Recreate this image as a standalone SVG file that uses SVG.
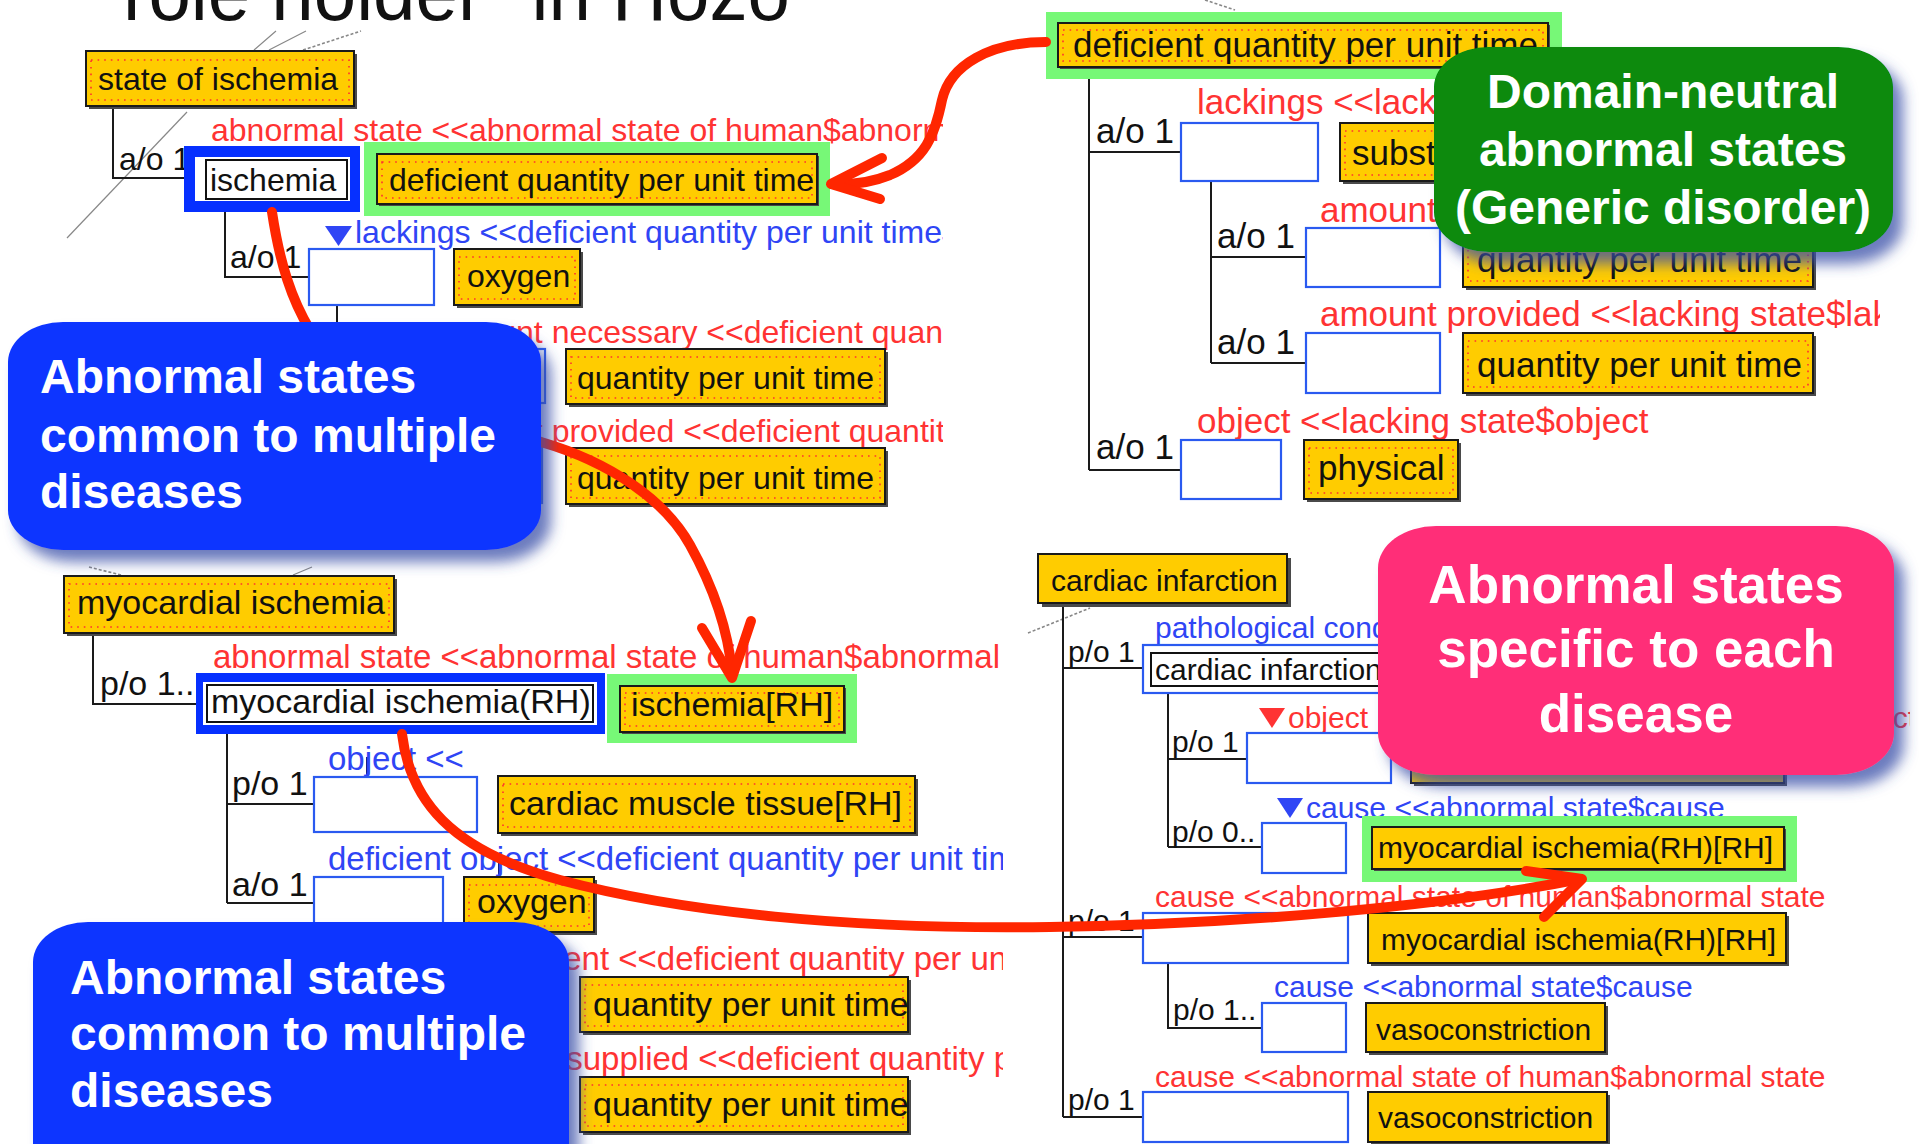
<svg xmlns="http://www.w3.org/2000/svg" width="1919" height="1144" viewBox="0 0 1919 1144">
  <defs>
    <style>
      text{font-family:"Liberation Sans",Arial,sans-serif}
      .f30{font-size:30px}.f32{font-size:32px}.f33{font-size:33px}.f34{font-size:34px}.f35{font-size:35px}
      .k{fill:#111}
      .rt{fill:#FF3333}
      .bt{fill:#2F45F5}
      .yb{fill:#FFCC00;stroke:#1a1a1a;stroke-width:2}
      .sh{fill:#4a4a4a}
      .dot{fill:none;stroke:#FF3030;stroke-width:1.6;stroke-dasharray:1.6 5}
      .bl{fill:#fff;stroke:#2A5AF0;stroke-width:2.2}
      .wb{fill:#fff;stroke:#111;stroke-width:2}
      .tl{fill:none;stroke:#1a1a1a;stroke-width:2}
      .gl{fill:none;stroke:#888;stroke-width:1.2}
      .gd{fill:none;stroke:#888;stroke-width:1.6;stroke-dasharray:3 2}
      .gh{fill:#77F877}
      .bh{fill:#0630FF}
      .arr{fill:none;stroke:#FF2600;stroke-width:10;stroke-linecap:round;stroke-linejoin:round}
      .co{font-weight:bold;fill:#fff}
    </style>
    <filter id="ds" x="-10%" y="-10%" width="130%" height="140%">
      <feDropShadow dx="10" dy="12" stdDeviation="7" flood-color="#3A4FA8" flood-opacity="0.75"/>
    </filter>
    <clipPath id="cpUL"><rect x="0" y="0" width="943" height="560"/></clipPath>
    <clipPath id="cpLL"><rect x="0" y="560" width="1003" height="584"/></clipPath>
    <clipPath id="cpUR"><rect x="1040" y="0" width="840" height="520"/></clipPath>
    <clipPath id="cpLR"><rect x="1010" y="520" width="900" height="624"/></clipPath>
  </defs>

  <rect width="1919" height="1144" fill="#fff"/>

  <!-- slide title, cut by the top edge -->
  <text id="title" x="96" y="20" font-size="80" textLength="694" lengthAdjust="spacingAndGlyphs" class="k">"role holder" in Hozo</text>

  <!-- ===== upper-left tree: ischemia ===== -->
  <g id="panel-ul" clip-path="url(#cpUL)">
    <g id="ul-deco">
      <path class="gl" d="M67,238 L187,112"/>
      <path class="gl" d="M254,50 L276,31 M269,50 L306,31"/>
      <path class="gd" d="M303,50 L361,31"/>
    </g>
    <g id="ul-lines">
      <path class="tl" d="M113,106 V178 H184"/>
      <path class="tl" d="M225,212 V277 H309"/>
      <path class="tl" d="M337,305 V475 M337,376 H423 M337,475 H423"/>
    </g>
    <g id="n-state-of-ischemia">
      <rect class="sh" x="89" y="54" width="268" height="55"/>
      <rect class="yb" x="86" y="51" width="268" height="55"/>
      <rect class="dot" x="91" y="60" width="258" height="40"/>
      <text class="k f32" x="98" y="90">state of ischemia</text>
    </g>
    <text class="k f32" x="119" y="170">a/o 1</text>
    <text class="rt f32" x="211" y="141">abnormal state &lt;&lt;abnormal state of human$abnormal</text>
    <g id="n-ischemia">
      <rect class="bh" x="184" y="146" width="176" height="66"/>
      <rect fill="#fff" x="195" y="157" width="155" height="44"/>
      <rect class="wb" x="206" y="160" width="141" height="39"/>
      <text class="k f32" x="210" y="191">ischemia</text>
    </g>
    <g id="n-dqput-ul">
      <rect class="gh" x="364" y="142" width="466" height="74"/>
      <rect class="sh" x="379" y="156" width="440" height="50"/>
      <rect class="yb" x="377" y="154" width="440" height="50"/>
      <rect class="dot" x="382" y="162" width="430" height="36"/>
      <text class="k f32" x="389" y="191">deficient quantity per unit time</text>
    </g>
    <text class="k f32" x="230" y="268">a/o 1</text>
    <g id="lbl-lackings">
      <polygon class="bt" points="325,226 352,226 338.5,246"/>
      <text class="bt f32" x="355" y="243">lackings &lt;&lt;deficient quantity per unit time$</text>
    </g>
    <g id="n-lackings">
      <rect class="bl" x="309" y="249" width="125" height="56"/>
    </g>
    <g id="n-oxygen-ul">
      <rect class="sh" x="457" y="252" width="126" height="56"/>
      <rect class="yb" x="454" y="249" width="126" height="56"/>
      <rect class="dot" x="459" y="257" width="116" height="42"/>
      <text class="k f32" x="467" y="287">oxygen</text>
    </g>
    <text class="rt f32" x="436" y="343">amount necessary &lt;&lt;deficient quantity</text>
    <g id="n-necessary-ul">
      <rect class="bl" x="423" y="349" width="122" height="54"/>
    </g>
    <g id="n-qput-ul1">
      <rect class="sh" x="569" y="352" width="319" height="55"/>
      <rect class="yb" x="566" y="349" width="319" height="55"/>
      <rect class="dot" x="571" y="357" width="309" height="41"/>
      <text class="k f32" x="577" y="389">quantity per unit time</text>
    </g>
    <text class="rt f32" x="436" y="442">amount provided &lt;&lt;deficient quantity</text>
    <g id="n-provided-ul">
      <rect class="bl" x="423" y="448" width="119" height="55"/>
    </g>
    <g id="n-qput-ul2">
      <rect class="sh" x="569" y="451" width="319" height="56"/>
      <rect class="yb" x="566" y="448" width="319" height="56"/>
      <rect class="dot" x="571" y="456" width="309" height="42"/>
      <text class="k f32" x="577" y="489">quantity per unit time</text>
    </g>
  </g>

  <!-- ===== lower-left tree: myocardial ischemia ===== -->
  <g id="panel-ll" clip-path="url(#cpLL)">
    <g id="ll-deco">
      <path class="gd" d="M89,567 L121,575"/>
      <path class="gl" d="M293,575 L312,567"/>
    </g>
    <g id="ll-lines">
      <path class="tl" d="M93,633 V704 H196"/>
      <path class="tl" d="M227,734 V903 M227,804 H314 M227,903 H314"/>
      <path class="tl" d="M345,935 V1104 M345,1005 H430 M345,1104 H430"/>
      <path class="tl" d="M367,757 V777 M499,853 V877" stroke-width="1.5"/>
    </g>
    <g id="n-myocardial-ischemia">
      <rect class="sh" x="67" y="579" width="330" height="57"/>
      <rect class="yb" x="64" y="576" width="330" height="57"/>
      <rect class="dot" x="69" y="584" width="320" height="43"/>
      <text class="k f34" x="77" y="614">myocardial ischemia</text>
    </g>
    <text class="k f34" x="100" y="695">p/o 1..</text>
    <text class="rt f33" x="213" y="668">abnormal state &lt;&lt;abnormal state of human$abnormal state</text>
    <g id="n-mi-rh">
      <rect class="bh" x="196" y="673" width="409" height="61"/>
      <rect fill="#fff" x="203" y="682" width="394" height="43"/>
      <rect class="wb" x="207" y="685" width="386" height="37"/>
      <text class="k f34" x="211" y="713">myocardial ischemia(RH)</text>
    </g>
    <g id="n-ischemia-rh">
      <rect class="gh" x="607" y="674" width="250" height="69"/>
      <rect class="sh" x="622" y="688" width="224" height="46"/>
      <rect class="yb" x="620" y="686" width="224" height="46"/>
      <rect class="dot" x="625" y="693" width="214" height="33"/>
      <text class="k f34" x="631" y="716">ischemia[RH]</text>
    </g>
    <text class="k f34" x="232" y="795">p/o 1</text>
    <text class="bt f33" x="328" y="770">object &lt;&lt;</text>
    <g id="n-object-ll">
      <rect class="bl" x="314" y="777" width="163" height="55"/>
    </g>
    <g id="n-cardiac-muscle">
      <rect class="sh" x="501" y="779" width="417" height="57"/>
      <rect class="yb" x="498" y="776" width="417" height="57"/>
      <rect class="dot" x="503" y="784" width="407" height="43"/>
      <text class="k f34" x="509" y="815">cardiac muscle tissue[RH]</text>
    </g>
    <text class="k f34" x="232" y="896">a/o 1</text>
    <text class="bt f33" x="328" y="870">deficient object &lt;&lt;deficient quantity per unit time</text>
    <g id="n-deficient-object">
      <rect class="bl" x="314" y="877" width="129" height="58"/>
    </g>
    <g id="n-oxygen-ll">
      <rect class="sh" x="467" y="880" width="130" height="55"/>
      <rect class="yb" x="464" y="877" width="130" height="55"/>
      <rect class="dot" x="469" y="885" width="120" height="41"/>
      <text class="k f34" x="477" y="913">oxygen</text>
    </g>
    <text class="rt f33" x="433" y="970">requirement &lt;&lt;deficient quantity per unit time</text>
    <g id="n-requirement">
      <rect class="bl" x="430" y="977" width="127" height="55"/>
    </g>
    <g id="n-qput-ll1">
      <rect class="sh" x="583" y="980" width="328" height="55"/>
      <rect class="yb" x="580" y="977" width="328" height="55"/>
      <rect class="dot" x="585" y="985" width="318" height="41"/>
      <text class="k f34" x="593" y="1016">quantity per unit time</text>
    </g>
    <text class="rt f33" x="447" y="1070">amount supplied &lt;&lt;deficient quantity per unit time</text>
    <g id="n-supplied">
      <rect class="bl" x="430" y="1077" width="127" height="55"/>
    </g>
    <g id="n-qput-ll2">
      <rect class="sh" x="583" y="1080" width="328" height="55"/>
      <rect class="yb" x="580" y="1077" width="328" height="55"/>
      <rect class="dot" x="585" y="1085" width="318" height="41"/>
      <text class="k f34" x="593" y="1116">quantity per unit time</text>
    </g>
  </g>

  <!-- ===== upper-right tree: deficient quantity per unit time ===== -->
  <g id="panel-ur" clip-path="url(#cpUR)">
    <path class="gd" d="M1205,0 L1235,10"/>
    <g id="ur-lines">
      <path class="tl" d="M1089,67 V470 M1089,152 H1181 M1089,470 H1181"/>
      <path class="tl" d="M1211,181 V363 M1211,257 H1306 M1211,363 H1306"/>
    </g>
    <g id="n-dqput-ur">
      <rect class="gh" x="1046" y="12" width="516" height="67"/>
      <rect class="sh" x="1060" y="25" width="490" height="44"/>
      <rect class="yb" x="1058" y="23" width="490" height="44"/>
      <rect class="dot" x="1063" y="30" width="480" height="31"/>
      <text class="k f35" x="1073" y="57">deficient quantity per unit time</text>
    </g>
    <text class="k f35" x="1096" y="143">a/o 1</text>
    <text class="rt f35" x="1197" y="114">lackings &lt;&lt;lacking</text>
    <g id="n-lackings-ur">
      <rect class="bl" x="1181" y="123" width="137" height="58"/>
    </g>
    <g id="n-substance">
      <rect class="sh" x="1343" y="126" width="200" height="58"/>
      <rect class="yb" x="1340" y="123" width="200" height="58"/>
      <rect class="dot" x="1345" y="131" width="190" height="44"/>
      <text class="k f35" x="1352" y="165">substance</text>
    </g>
    <text class="k f35" x="1217" y="248">a/o 1</text>
    <text class="rt f35" x="1320" y="222">amount</text>
    <g id="n-necessary-ur">
      <rect class="bl" x="1306" y="228" width="134" height="59"/>
    </g>
    <g id="n-qput-ur1">
      <rect class="sh" x="1466" y="233" width="350" height="57"/>
      <rect class="yb" x="1463" y="230" width="350" height="57"/>
      <rect class="dot" x="1468" y="238" width="340" height="43"/>
      <text class="k f35" x="1477" y="272">quantity per unit time</text>
    </g>
    <text class="k f35" x="1217" y="354">a/o 1</text>
    <text class="rt f35" x="1320" y="326">amount provided &lt;&lt;lacking state$lak</text>
    <g id="n-provided-ur">
      <rect class="bl" x="1306" y="333" width="134" height="60"/>
    </g>
    <g id="n-qput-ur2">
      <rect class="sh" x="1466" y="336" width="350" height="60"/>
      <rect class="yb" x="1463" y="333" width="350" height="60"/>
      <rect class="dot" x="1468" y="341" width="340" height="46"/>
      <text class="k f35" x="1477" y="377">quantity per unit time</text>
    </g>
    <text class="k f35" x="1096" y="459">a/o 1</text>
    <text class="rt f35" x="1197" y="433">object &lt;&lt;lacking state$object</text>
    <g id="n-object-ur">
      <rect class="bl" x="1181" y="440" width="100" height="59"/>
    </g>
    <g id="n-physical">
      <rect class="sh" x="1307" y="443" width="154" height="59"/>
      <rect class="yb" x="1304" y="440" width="154" height="59"/>
      <rect class="dot" x="1309" y="448" width="144" height="45"/>
      <text class="k f35" x="1318" y="480">physical</text>
    </g>
  </g>

  <!-- ===== lower-right tree: cardiac infarction ===== -->
  <g id="panel-lr" clip-path="url(#cpLR)">
    <path class="gd" d="M1028,633 L1090,608"/>
    <g id="lr-lines">
      <path class="tl" d="M1063,603 V1117 M1063,668 H1143 M1063,937 H1143 M1063,1117 H1143"/>
      <path class="tl" d="M1168,693 V847 M1168,759 H1247 M1168,847 H1262"/>
      <path class="tl" d="M1168,963 V1028 H1262"/>
    </g>
    <g id="n-cardiac-infarction">
      <rect class="sh" x="1042" y="558" width="249" height="49"/>
      <rect class="yb" x="1038" y="554" width="249" height="49"/>
      <text class="k f30" x="1051" y="591">cardiac infarction</text>
    </g>
    <text class="k f30" x="1068" y="662">p/o 1</text>
    <text class="bt f30" x="1155" y="638">pathological condition</text>
    <g id="n-pathological-condition">
      <rect class="bl" x="1143" y="645" width="290" height="48"/>
      <rect class="wb" x="1151" y="653" width="276" height="33"/>
      <text class="k f30" x="1155" y="680">cardiac infarction</text>
    </g>
    <text class="k f30" x="1172" y="752">p/o 1</text>
    <g id="lbl-object-lr">
      <polygon class="rt" points="1259,708 1285,708 1272,728"/>
      <text class="rt f30" x="1288" y="728" word-spacing="19">object &lt;&lt;abnormal state of human$object</text>
    </g>
    <g id="n-object-lr">
      <rect class="bl" x="1247" y="733" width="144" height="50"/>
    </g>
    <g id="n-object-class-lr">
      <rect class="sh" x="1414" y="736" width="373" height="50"/>
      <rect class="yb" x="1411" y="733" width="373" height="50"/>
    </g>
    <text class="k f30" x="1172" y="842">p/o 0..</text>
    <g id="lbl-cause-1">
      <polygon class="bt" points="1277,798 1303,798 1290,818"/>
      <text class="bt f30" x="1306" y="818">cause &lt;&lt;abnormal state$cause</text>
    </g>
    <g id="n-cause-1">
      <rect class="bl" x="1262" y="823" width="84" height="50"/>
    </g>
    <g id="n-mi-rh-rh-1">
      <rect class="gh" x="1362" y="816" width="435" height="66"/>
      <rect class="sh" x="1374" y="829" width="412" height="42"/>
      <rect class="yb" x="1372" y="827" width="412" height="42"/>
      <text class="k f30" x="1378" y="858">myocardial ischemia(RH)[RH]</text>
    </g>
    <text class="rt f30" x="1155" y="907">cause &lt;&lt;abnormal state of human$abnormal state</text>
    <text class="k f30" x="1068" y="931">p/o 1</text>
    <g id="n-cause-2">
      <rect class="bl" x="1143" y="913" width="205" height="50"/>
    </g>
    <g id="n-mi-rh-rh-2">
      <rect class="sh" x="1371" y="916" width="418" height="50"/>
      <rect class="yb" x="1368" y="913" width="418" height="50"/>
      <text class="k f30" x="1381" y="950">myocardial ischemia(RH)[RH]</text>
    </g>
    <text class="bt f30" x="1274" y="997">cause &lt;&lt;abnormal state$cause</text>
    <text class="k f30" x="1173" y="1020">p/o 1..</text>
    <g id="n-cause-3">
      <rect class="bl" x="1262" y="1003" width="84" height="49"/>
    </g>
    <g id="n-vasoconstriction-1">
      <rect class="sh" x="1369" y="1006" width="239" height="49"/>
      <rect class="yb" x="1366" y="1003" width="239" height="49"/>
      <text class="k f30" x="1376" y="1040">vasoconstriction</text>
    </g>
    <text class="rt f30" x="1155" y="1087">cause &lt;&lt;abnormal state of human$abnormal state</text>
    <text class="k f30" x="1068" y="1110">p/o 1</text>
    <g id="n-cause-4">
      <rect class="bl" x="1143" y="1092" width="205" height="50"/>
    </g>
    <g id="n-vasoconstriction-2">
      <rect class="sh" x="1371" y="1095" width="239" height="50"/>
      <rect class="yb" x="1368" y="1092" width="239" height="50"/>
      <text class="k f30" x="1378" y="1128">vasoconstriction</text>
    </g>
  </g>

  <!-- ===== hand-drawn red arrows ===== -->
  <g id="connectors">
    <path class="arr" d="M1046,42 C990,42 950,65 942,100 C935,135 925,160 890,175 C870,183 850,185 832,184"/>
    <polyline class="arr" points="882,158 831,184 880,199"/>
    <path class="arr" d="M272,212 C280,265 292,300 310,330 L420,390 L541,442 C610,462 665,500 690,545 C715,590 728,630 732,672"/>
    <polyline class="arr" points="702,628 732,678 751,621"/>
    <path class="arr" d="M402,734 C410,800 450,850 560,880 C680,912 850,930 1050,927 C1250,924 1450,905 1580,879"/>
    <polyline class="arr" points="1526,871 1582,879 1544,917"/>
  </g>

  <!-- ===== callouts ===== -->
  <g id="callout-common-1">
    <rect x="8" y="322" width="533" height="228" rx="55" ry="40" fill="#1034FF" filter="url(#ds)"/>
    <text class="co" font-size="48" x="40" y="393">Abnormal states</text>
    <text class="co" font-size="48" x="40" y="452">common to multiple</text>
    <text class="co" font-size="48" x="40" y="508">diseases</text>
  </g>
  <g id="callout-common-2">
    <rect x="33" y="922" width="536" height="270" rx="55" ry="40" fill="#1034FF" filter="url(#ds)"/>
    <text class="co" font-size="48" x="70" y="994">Abnormal states</text>
    <text class="co" font-size="48" x="70" y="1050">common to multiple</text>
    <text class="co" font-size="48" x="70" y="1107">diseases</text>
  </g>
  <g id="callout-domain-neutral">
    <rect x="1434" y="47" width="459" height="205" rx="55" ry="40" fill="#078A07" filter="url(#ds)"/>
    <text class="co" font-size="48" x="1663" y="108" text-anchor="middle">Domain-neutral</text>
    <text class="co" font-size="48" x="1663" y="166" text-anchor="middle">abnormal states</text>
    <text class="co" font-size="48" x="1663" y="224" text-anchor="middle">(Generic disorder)</text>
  </g>
  <g id="callout-specific">
    <rect x="1378" y="526" width="516" height="249" rx="58" ry="42" fill="#FF2E78" filter="url(#ds)"/>
    <text class="co" font-size="53" x="1636" y="603" text-anchor="middle">Abnormal states</text>
    <text class="co" font-size="53" x="1636" y="667" text-anchor="middle">specific to each</text>
    <text class="co" font-size="53" x="1636" y="732" text-anchor="middle">disease</text>
  </g>
</svg>
